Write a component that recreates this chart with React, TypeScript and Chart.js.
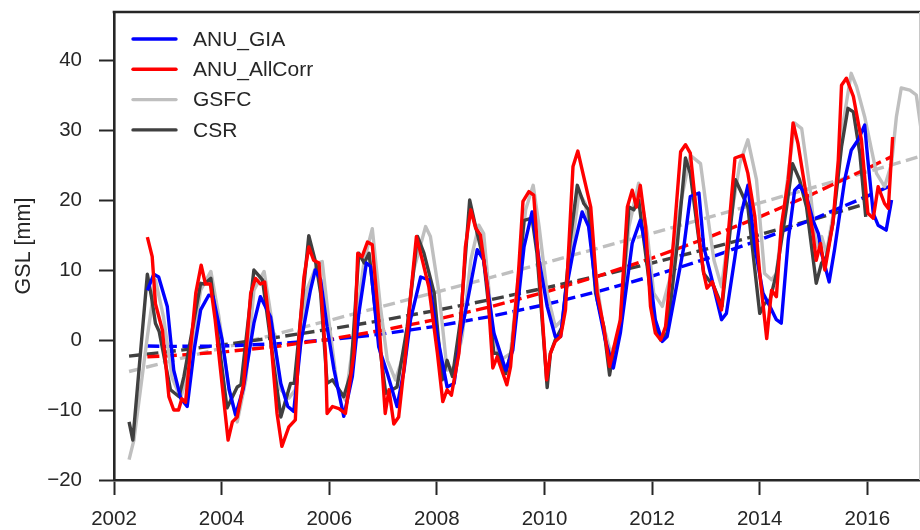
import React, { useEffect, useRef } from 'react';
import { Chart, registerables } from 'chart.js';

Chart.register(...registerables);

// ---------- data (decimal year, GSL mm) ----------
const SERIES_NAMES = ['ANU_GIA', 'ANU_AllCorr', 'GSFC', 'CSR'];
const SERIES_COLORS = ['#0000ff', '#ff0000', '#bfbfbf', '#404040'];

const X_TICKS = [2002, 2004, 2006, 2008, 2010, 2012, 2014, 2016];
const Y_TICKS = [-20, -10, 0, 10, 20, 30, 40];

const anuGia: [number, number][] = [
  [2002.62, 7.1], [2002.74, 9.4], [2002.83, 9.0], [2002.99, 4.8], [2003.11, -4.3], [2003.24, -8.3],
  [2003.36, -9.5], [2003.49, -1.4], [2003.61, 4.3], [2003.76, 6.4], [2003.84, 6.2], [2004.01, 0.0],
  [2004.14, -7.1], [2004.26, -10.7], [2004.40, -7.0], [2004.60, 2.4], [2004.72, 6.2], [2004.91, 3.3],
  [2005.10, -6.2], [2005.23, -9.5], [2005.34, -10.2], [2005.47, -0.5], [2005.65, 7.1], [2005.74, 10.0],
  [2005.84, 8.6], [2005.96, 1.9], [2006.09, -4.3], [2006.27, -10.9], [2006.43, -5.2], [2006.55, 3.8],
  [2006.69, 11.0], [2006.77, 10.5], [2006.92, -1.0], [2007.08, -4.8], [2007.26, -9.5], [2007.39, -4.3],
  [2007.51, 2.9], [2007.70, 9.0], [2007.85, 8.6], [2008.01, 0.5], [2008.19, -6.7], [2008.32, -6.2],
  [2008.44, 0.5], [2008.56, 5.2], [2008.75, 12.9], [2008.87, 11.4], [2009.06, 1.0], [2009.28, -4.3],
  [2009.41, -1.5], [2009.62, 13.3], [2009.77, 18.3], [2009.90, 11.4], [2010.05, 4.8], [2010.20, 0.5],
  [2010.30, 0.5], [2010.39, 6.7], [2010.55, 13.3], [2010.70, 18.3], [2010.82, 16.2], [2010.98, 5.7],
  [2011.13, 0.0], [2011.28, -4.0], [2011.41, 1.0], [2011.63, 13.8], [2011.78, 17.1], [2011.91, 12.4],
  [2012.06, 2.9], [2012.19, -0.2], [2012.28, 0.5], [2012.43, 6.7], [2012.59, 13.3], [2012.71, 20.5],
  [2012.87, 21.0], [2012.96, 13.3], [2013.10, 9.0], [2013.29, 2.9], [2013.38, 3.8], [2013.54, 11.9],
  [2013.66, 18.1], [2013.78, 22.1], [2013.91, 13.3], [2014.06, 6.7], [2014.19, 4.8], [2014.31, 2.9],
  [2014.40, 2.4], [2014.53, 14.3], [2014.65, 21.4], [2014.74, 22.1], [2014.87, 20.5], [2014.99, 17.1],
  [2015.09, 15.2], [2015.15, 12.4], [2015.29, 8.3], [2015.39, 12.9], [2015.58, 22.9], [2015.70, 27.1],
  [2015.83, 28.6], [2015.95, 30.7], [2016.01, 25.7], [2016.11, 18.1], [2016.20, 16.4], [2016.35, 15.7],
  [2016.45, 20.0],
];

const anuAllCorr: [number, number][] = [
  [2002.62, 14.7], [2002.71, 11.9], [2002.77, 5.2], [2002.90, 1.4], [2003.02, -8.1], [2003.11, -10.0],
  [2003.20, -10.0], [2003.26, -8.4], [2003.33, -8.9], [2003.52, 6.7], [2003.62, 10.7], [2003.70, 8.0],
  [2003.79, 8.0], [2003.88, 2.9], [2003.98, -4.3], [2004.12, -14.3], [2004.20, -11.7], [2004.29, -11.0],
  [2004.41, -6.2], [2004.54, 6.7], [2004.63, 8.8], [2004.72, 8.0], [2004.80, 8.3], [2004.90, 1.3],
  [2005.03, -10.5], [2005.12, -15.2], [2005.25, -12.4], [2005.37, -11.4], [2005.44, 0.5], [2005.53, 9.0],
  [2005.62, 13.3], [2005.71, 11.4], [2005.81, 11.0], [2005.93, -1.9], [2005.96, -10.5], [2006.06, -9.5],
  [2006.18, -9.8], [2006.30, -10.5], [2006.46, -1.9], [2006.53, 12.4], [2006.61, 11.9], [2006.71, 14.0],
  [2006.80, 13.6], [2006.92, 2.9], [2007.04, -10.5], [2007.11, -7.1], [2007.20, -12.0], [2007.29, -11.0],
  [2007.42, -1.9], [2007.51, 6.2], [2007.62, 14.8], [2007.73, 11.4], [2007.85, 7.6], [2008.01, -1.9],
  [2008.11, -8.8], [2008.19, -7.1], [2008.27, -7.9], [2008.41, -1.9], [2008.53, 13.3], [2008.63, 18.6],
  [2008.72, 16.0], [2008.81, 15.0], [2008.94, 7.6], [2009.04, -4.0], [2009.12, -2.4], [2009.30, -6.4],
  [2009.37, -3.8], [2009.52, 10.0], [2009.60, 19.8], [2009.71, 21.2], [2009.80, 20.7], [2009.93, 6.7],
  [2010.04, -5.7], [2010.11, -1.9], [2010.20, -0.2], [2010.30, 0.5], [2010.39, 4.3], [2010.53, 24.8],
  [2010.62, 27.0], [2010.73, 23.3], [2010.86, 19.0], [2010.98, 6.7], [2011.10, 1.9], [2011.21, -3.8],
  [2011.32, 0.0], [2011.41, 2.9], [2011.54, 19.0], [2011.63, 21.4], [2011.71, 19.0], [2011.78, 22.1],
  [2011.88, 16.2], [2011.97, 4.8], [2012.06, 1.0], [2012.16, 0.0], [2012.25, 1.9], [2012.40, 14.3],
  [2012.53, 26.9], [2012.62, 27.9], [2012.71, 26.7], [2012.87, 14.8], [2012.96, 9.5], [2013.02, 7.4],
  [2013.12, 8.3], [2013.29, 4.3], [2013.54, 26.0], [2013.69, 26.4], [2013.78, 23.8], [2013.91, 17.6],
  [2014.00, 9.5], [2014.13, 0.2], [2014.22, 7.1], [2014.31, 6.2], [2014.40, 16.2], [2014.53, 22.9],
  [2014.62, 31.0], [2014.71, 28.1], [2014.84, 21.9], [2014.99, 15.2], [2015.05, 11.4], [2015.13, 13.8],
  [2015.21, 10.0], [2015.36, 16.7], [2015.46, 25.7], [2015.52, 36.4], [2015.61, 37.4], [2015.74, 34.8],
  [2015.89, 28.6], [2016.01, 18.1], [2016.11, 17.4], [2016.20, 21.9], [2016.32, 19.5], [2016.39, 18.8],
  [2016.47, 29.0],
];

const gsfc: [number, number][] = [
  [2002.28, -17.1], [2002.37, -14.3], [2002.62, 0.5], [2002.77, 8.6], [2002.92, 3.3], [2003.08, -5.4],
  [2003.24, -8.3], [2003.39, -4.1], [2003.61, 7.1], [2003.80, 9.8], [2003.95, 3.3], [2004.14, -7.1],
  [2004.29, -11.7], [2004.45, -5.7], [2004.60, 7.1], [2004.79, 9.8], [2004.94, 2.4], [2005.10, -7.1],
  [2005.25, -8.3], [2005.37, -7.1], [2005.58, 7.1], [2005.78, 11.0], [2005.87, 11.2], [2005.99, 2.9],
  [2006.15, -6.7], [2006.30, -8.6], [2006.46, 0.5], [2006.65, 11.4], [2006.80, 15.9], [2006.95, 4.8],
  [2007.08, -2.9], [2007.23, -5.7], [2007.39, -1.9], [2007.57, 10.0], [2007.79, 16.2], [2007.88, 14.8],
  [2008.04, 6.7], [2008.19, -4.3], [2008.35, -3.8], [2008.47, 0.5], [2008.63, 11.4], [2008.78, 16.4],
  [2008.87, 15.2], [2009.03, 1.9], [2009.18, -2.9], [2009.37, -1.9], [2009.50, 8.0], [2009.65, 18.6],
  [2009.79, 22.1], [2009.90, 16.2], [2010.05, 6.7], [2010.20, 1.9], [2010.33, 2.9], [2010.48, 11.4],
  [2010.64, 21.0], [2010.76, 19.5], [2010.92, 11.4], [2011.07, 2.9], [2011.23, -1.9], [2011.38, 0.5],
  [2011.57, 16.2], [2011.75, 22.4], [2011.91, 15.2], [2012.03, 6.7], [2012.19, 4.8], [2012.34, 9.0],
  [2012.53, 19.5], [2012.71, 26.4], [2012.90, 25.2], [2012.99, 20.0], [2013.15, 11.4], [2013.29, 7.6],
  [2013.44, 16.2], [2013.63, 25.2], [2013.78, 28.6], [2013.94, 22.9], [2014.09, 9.5], [2014.22, 8.6],
  [2014.31, 9.5], [2014.50, 21.9], [2014.65, 31.0], [2014.78, 30.2], [2014.93, 21.9], [2015.05, 13.3],
  [2015.15, 14.8], [2015.24, 12.4], [2015.39, 19.0], [2015.55, 31.0], [2015.70, 38.1], [2015.80, 36.2],
  [2015.95, 31.9], [2016.08, 27.1], [2016.17, 23.8], [2016.32, 21.9], [2016.45, 25.2], [2016.54, 31.9],
  [2016.63, 36.0], [2016.79, 35.7], [2016.91, 35.0], [2017.00, 30.0],
];

const csr: [number, number][] = [
  [2002.28, -11.7], [2002.35, -14.3], [2002.62, 9.4], [2002.70, 6.0], [2002.77, 2.4], [2002.84, 1.2],
  [2003.05, -7.1], [2003.21, -8.1], [2003.30, -5.2], [2003.61, 8.1], [2003.68, 8.0], [2003.80, 8.8],
  [2004.10, -9.7], [2004.29, -6.7], [2004.36, -6.4], [2004.60, 10.0], [2004.76, 8.6], [2005.10, -11.0],
  [2005.28, -6.2], [2005.35, -6.2], [2005.62, 14.9], [2005.75, 11.0], [2005.84, 6.7], [2005.96, -6.2],
  [2006.06, -5.7], [2006.27, -8.1], [2006.40, -4.8], [2006.55, 12.4], [2006.65, 11.0], [2006.74, 12.4],
  [2006.89, 1.9], [2007.05, -7.6], [2007.26, -6.7], [2007.45, 1.9], [2007.64, 14.8], [2007.76, 12.4],
  [2007.95, 6.7], [2008.10, -5.7], [2008.19, -2.9], [2008.29, -5.2], [2008.44, 2.9], [2008.61, 20.0],
  [2008.72, 16.2], [2008.87, 11.4], [2009.06, -1.9], [2009.12, -1.9], [2009.28, -4.8], [2009.40, -1.0],
  [2009.62, 17.1], [2009.77, 17.4], [2009.86, 12.4], [2009.99, -0.5], [2010.05, -6.8], [2010.11, -1.9],
  [2010.20, 0.0], [2010.33, 1.9], [2010.48, 14.3], [2010.61, 22.1], [2010.73, 19.5], [2010.82, 18.6],
  [2010.95, 6.7], [2011.10, 1.9], [2011.21, -5.0], [2011.29, -1.4], [2011.41, 1.9], [2011.57, 19.0],
  [2011.66, 18.6], [2011.75, 20.0], [2011.91, 10.5], [2012.03, 2.9], [2012.16, 0.0], [2012.28, 1.0],
  [2012.47, 13.8], [2012.62, 26.0], [2012.71, 23.8], [2012.87, 14.3], [2012.96, 9.5], [2013.15, 7.6],
  [2013.30, 4.8], [2013.55, 22.9], [2013.78, 19.0], [2014.00, 3.8], [2014.09, 5.2], [2014.19, 5.7],
  [2014.31, 9.5], [2014.50, 19.0], [2014.61, 25.2], [2014.74, 22.9], [2014.87, 19.0], [2015.05, 8.1],
  [2015.15, 11.0], [2015.24, 11.9], [2015.36, 16.7], [2015.52, 27.6], [2015.64, 33.1], [2015.74, 32.6],
  [2015.86, 26.7], [2015.97, 17.6],
];

// fitted trend curves
const anuGiaTrend: [number, number][] = [
  [2002.62, -0.86], [2003, -0.91], [2004, -0.87], [2005, -0.55], [2006, 0.03], [2007, 0.87],
  [2008, 1.99], [2009, 3.37], [2010, 5.03], [2011, 6.94], [2012, 9.13], [2013, 11.58],
  [2014, 14.31], [2015, 17.29], [2016, 20.55], [2016.45, 22.1],
];
const anuAllCorrTrend: [number, number][] = [
  [2002.62, -2.4], [2003, -2.26], [2004, -1.73], [2005, -0.94], [2006, 0.11], [2007, 1.41],
  [2008, 2.95], [2009, 4.76], [2010, 6.82], [2011, 9.14], [2012, 11.71], [2013, 14.52],
  [2014, 17.59], [2015, 20.92], [2016, 24.51], [2016.45, 26.2],
];
const gsfcTrend: [number, number][] = [
  [2002.28, -4.5], [2004, -1.17], [2006, 2.8], [2008, 6.86], [2010, 11.0], [2012, 15.25],
  [2014, 19.59], [2016, 24.02], [2017, 26.27],
];
const csrTrend: [number, number][] = [
  [2002.28, -2.3], [2003, -1.68], [2004, -0.71], [2005, 0.36], [2006, 1.54], [2007, 2.84],
  [2008, 4.25], [2009, 5.77], [2010, 7.41], [2011, 9.15], [2012, 11.0], [2013, 12.97],
  [2014, 15.04], [2015, 17.24], [2015.98, 19.49],
];

const FONT = "'Liberation Sans', Arial, Helvetica, sans-serif";
const TEXT = '#262626';

const toPts = (a: [number, number][]) => a.map(([x, y]) => ({ x, y }));

const framePlugin = {
  id: 'frameLegend',
  afterDraw(chart: any) {
    const { ctx, chartArea } = chart;
    const { left, right, top, bottom } = chartArea;
    ctx.save();
    // top spine
    ctx.strokeStyle = TEXT;
    ctx.lineWidth = 2.6;
    ctx.beginPath();
    ctx.moveTo(left - 1.3, top);
    ctx.lineTo(right + 1, top);
    ctx.stroke();
    // right edge
    ctx.strokeStyle = '#c8c8c8';
    ctx.lineWidth = 1;
    ctx.beginPath();
    ctx.moveTo(right + 0.5, top);
    ctx.lineTo(right + 0.5, bottom);
    ctx.stroke();
    // legend
    ctx.font = `21px ${FONT}`;
    ctx.textBaseline = 'middle';
    ctx.textAlign = 'left';
    SERIES_NAMES.forEach((name, i) => {
      const y = top + 27 + i * 30.3;
      ctx.strokeStyle = SERIES_COLORS[i];
      ctx.lineWidth = 3.4;
      ctx.lineCap = 'round';
      ctx.beginPath();
      ctx.moveTo(left + 19, y);
      ctx.lineTo(left + 62, y);
      ctx.stroke();
      ctx.fillStyle = TEXT;
      ctx.fillText(name, left + 79, y + 1);
    });
    ctx.restore();
  },
};

const zeroPad = (s: any) => {
  s.paddingTop = 0;
  s.paddingBottom = 0;
  s.paddingLeft = 0;
  s.paddingRight = 0;
};

export default function App() {
  const ref = useRef<HTMLCanvasElement>(null);

  useEffect(() => {
    document.body.style.margin = '0';
    if (!ref.current) return;
    const line = (data: [number, number][], color: string, dashed: boolean) => ({
      data: toPts(data),
      borderColor: color,
      backgroundColor: color,
      borderWidth: 3.4,
      borderDash: dashed ? [12, 5.5] : [],
      borderJoinStyle: 'round' as const,
      borderCapStyle: 'butt' as const,
      pointRadius: 0,
      pointHoverRadius: 0,
      fill: false,
      tension: 0,
    });
    const chart = new Chart(ref.current, {
      type: 'line',
      data: {
        datasets: [
          line(anuAllCorr, SERIES_COLORS[1], false),
          line(anuGia, SERIES_COLORS[0], false),
          line(csr, SERIES_COLORS[3], false),
          line(gsfc, SERIES_COLORS[2], false),
          line(anuAllCorrTrend, SERIES_COLORS[1], true),
          line(anuGiaTrend, SERIES_COLORS[0], true),
          line(csrTrend, SERIES_COLORS[3], true),
          line(gsfcTrend, SERIES_COLORS[2], true),
        ],
      },
      options: {
        animation: false,
        responsive: false,
        devicePixelRatio: 1,
        events: [],
        layout: { padding: { top: 12, right: 1, left: 0, bottom: 0 } },
        plugins: { legend: { display: false }, tooltip: { enabled: false } },
        scales: {
          x: {
            type: 'linear',
            min: 2002,
            max: 2016.96,
            afterBuildTicks: (s: any) => {
              s.ticks = X_TICKS.map((v) => ({ value: v }));
            },
            afterFit: (s: any) => {
              s.height = 50;
              zeroPad(s);
            },
            ticks: {
              autoSkip: false,
              maxRotation: 0,
              padding: 12,
              color: TEXT,
              font: { family: FONT, size: 20.5 },
              callback: (v: any) => String(v),
            },
            grid: {
              drawOnChartArea: false,
              drawTicks: true,
              tickLength: 15,
              tickWidth: 2,
              tickColor: TEXT,
            },
            border: { display: true, color: TEXT, width: 2.6 },
          },
          y: {
            type: 'linear',
            min: -20,
            max: 46.86,
            afterBuildTicks: (s: any) => {
              s.ticks = Y_TICKS.map((v) => ({ value: v }));
            },
            afterFit: (s: any) => {
              s.width = 114;
              zeroPad(s);
            },
            ticks: {
              autoSkip: false,
              padding: 17,
              color: TEXT,
              font: { family: FONT, size: 20.5 },
              callback: (v: any) => String(v).replace('-', '\u2212'),
            },
            grid: {
              drawOnChartArea: false,
              drawTicks: true,
              tickLength: 15,
              tickWidth: 2,
              tickColor: TEXT,
            },
            border: { display: true, color: TEXT, width: 2.6 },
            title: {
              display: true,
              text: 'GSL [mm]',
              color: TEXT,
              font: { family: FONT, size: 21.5 },
              padding: { top: 11, bottom: 0 },
            },
          },
        },
      },
      plugins: [framePlugin],
    });
    return () => chart.destroy();
  }, []);

  return (
    <div style={{ position: 'absolute', left: 0, top: 0, width: 920, height: 530, background: '#fff' }}>
      <canvas ref={ref} width={920} height={530} style={{ display: 'block', width: 920, height: 530 }} />
    </div>
  );
}
